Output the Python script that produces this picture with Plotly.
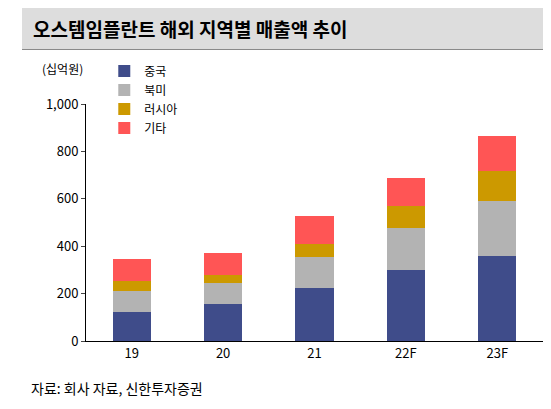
import plotly.graph_objects as go

years = ["19", "20", "21", "22F", "23F"]
china = [123, 157, 225, 298, 357]
namerica = [90, 86, 128, 179, 234]
russia = [42, 34, 55, 93, 128]
others = [90, 93, 120, 119, 145]

names = ["중국", "북미", "러시아", "기타"]
colors = ["#3F4C8A", "#B3B3B3", "#CC9900", "#FF5555"]

fig = go.Figure()
for name, vals, c in zip(names, [china, namerica, russia, others], colors):
    fig.add_trace(go.Bar(x=years, y=vals, name=name, marker_color=c,
                         marker_line_width=0, width=0.42))

fig.update_layout(
    barmode="stack",
    width=551, height=409,
    margin=dict(l=78, r=16, t=96, b=76),
    plot_bgcolor="white", paper_bgcolor="white",
    font=dict(family="Noto Sans CJK KR", size=13, color="black"),
    legend=dict(x=0.04, y=1.2, xanchor="left", yanchor="top",
                traceorder="normal", font=dict(size=12),
                itemwidth=30, tracegroupgap=0, bgcolor="rgba(0,0,0,0)"),
    xaxis=dict(showline=True, linecolor="black", ticks="", tickfont=dict(size=13)),
    yaxis=dict(range=[0, 1000], dtick=200, tickformat=",", showgrid=False,
               showline=True, linecolor="black", ticks="outside", ticklen=4,
               tickfont=dict(size=13)),
    shapes=[dict(type="rect", xref="paper", yref="paper", x0=-0.14, x1=1.03,
                 y0=1.23, y1=1.41, fillcolor="#DDDDDD", line_width=0, layer="below"),
            dict(type="line", xref="paper", yref="paper", x0=-0.14, x1=1.03,
                 y0=1.23, y1=1.23, line=dict(color="#888888", width=1))],
    annotations=[
        dict(text="<b>오스템임플란트 해외 지역별 매출액 추이</b>", xref="paper", yref="paper",
             x=-0.12, y=1.32, xanchor="left", yanchor="middle", showarrow=False,
             font=dict(size=19, color="black")),
        dict(text="(십억원)", xref="paper", yref="paper", x=-0.1, y=1.15,
             xanchor="left", yanchor="middle", showarrow=False, font=dict(size=12)),
        dict(text="자료: 회사 자료, 신한투자증권", xref="paper", yref="paper",
             x=-0.125, y=-0.2, xanchor="left", yanchor="middle", showarrow=False,
             font=dict(size=14)),
    ],
)

fig.write_html("out.html")
